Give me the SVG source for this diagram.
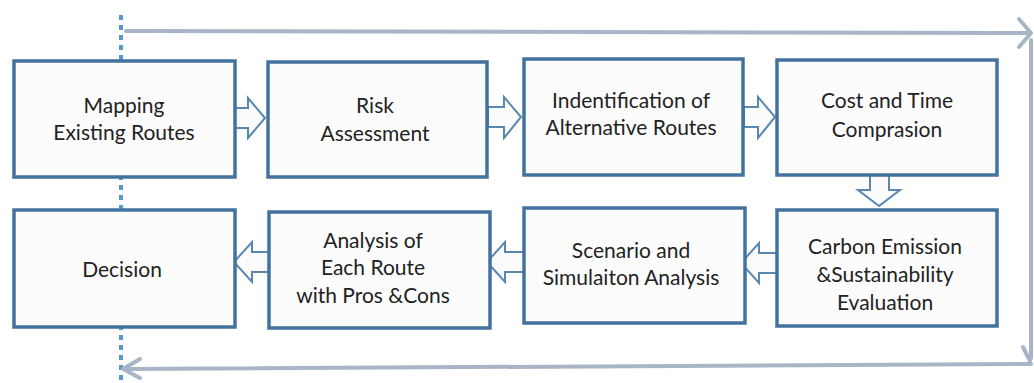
<svg xmlns="http://www.w3.org/2000/svg" width="1034" height="383" viewBox="0 0 1034 383">
  <defs>
    <style>
      .box { fill: #fcfcfc; stroke: #44729e; stroke-width: 3.5; }
      .lbl { font-family: Lato, "Open Sans", "Liberation Sans", sans-serif; font-size: 21px; fill: #222222; text-anchor: middle; }
      .flow { fill: #fbfbfb; stroke: #5a86b2; stroke-width: 2; stroke-linejoin: miter; }
      .loop { fill: none; stroke: #a7b5c7; stroke-width: 4; stroke-linecap: round; stroke-linejoin: round; }
      .guide { fill: none; stroke: #5b96d0; stroke-width: 4; stroke-dasharray: 5 5; }
    </style>
  </defs>
  <rect width="1034" height="383" fill="#ffffff"/>

  <!-- dotted guide line running behind the left column -->
  <line class="guide" x1="121" y1="15" x2="121" y2="383"/>

  <g id="connectors">
    <!-- feedback loop around the process -->
    <g id="loop">
      <path class="loop" d="M126,31 L1030,33"/>
      <path class="loop" d="M1019,19 L1031,33 L1019,47"/>
      <path class="loop" d="M1031,40 L1031,358"/>
      <path class="loop" d="M1023,347 L1030,361"/>
      <path class="loop" d="M1031,364 L124,369"/>
      <path class="loop" d="M140,359 L123,369 L140,378"/>
    </g>
    <!-- block arrows between steps -->
    <polygon class="flow" points="235,108 248,108 248,98 265,118 248,138 248,128 235,128"/>
    <polygon class="flow" points="488,107 504,107 504,97 521,117 504,138 504,127 488,127"/>
    <polygon class="flow" points="744,107 758,107 758,97 775,117 758,138 758,127 744,127"/>
    <polygon class="flow" points="870,175 889,175 889,190 900,190 879,206 858,190 870,190"/>
    <polygon class="flow" points="777,253 759,253 759,243 741,263 759,283 759,273 777,273"/>
    <polygon class="flow" points="524,252 505,252 505,242 487,262 505,282 505,272 524,272"/>
    <polygon class="flow" points="269,252 252,252 252,242 234,262 252,282 252,272 269,272"/>
  </g>

  <g id="mapping">
    <rect class="box" x="14" y="61" width="221" height="116"/>
    <text class="lbl" x="124" y="113">Mapping</text>
    <text class="lbl" x="124" y="140">Existing Routes</text>
  </g>
  <g id="risk">
    <rect class="box" x="268" y="62" width="219" height="115"/>
    <text class="lbl" x="375" y="113">Risk</text>
    <text class="lbl" x="375" y="141">Assessment</text>
  </g>
  <g id="alternatives">
    <rect class="box" x="524" y="59" width="219" height="116"/>
    <text class="lbl" x="631" y="108">Indentification of</text>
    <text class="lbl" x="631" y="135">Alternative Routes</text>
  </g>
  <g id="cost-time">
    <rect class="box" x="777" y="60" width="220" height="115"/>
    <text class="lbl" x="887" y="108">Cost and Time</text>
    <text class="lbl" x="887" y="137">Comprasion</text>
  </g>
  <g id="carbon">
    <rect class="box" x="777" y="210" width="220" height="116"/>
    <text class="lbl" x="885" y="254">Carbon Emission</text>
    <text class="lbl" x="885" y="282">&amp;Sustainability</text>
    <text class="lbl" x="885" y="310">Evaluation</text>
  </g>
  <g id="scenario">
    <rect class="box" x="524" y="208" width="221" height="115"/>
    <text class="lbl" x="631" y="258">Scenario and</text>
    <text class="lbl" x="631" y="285">Simulaiton Analysis</text>
  </g>
  <g id="analysis">
    <rect class="box" x="269" y="212" width="221" height="116"/>
    <text class="lbl" x="373" y="248">Analysis of</text>
    <text class="lbl" x="373" y="275">Each Route</text>
    <text class="lbl" x="373" y="303">with Pros &amp;Cons</text>
  </g>
  <g id="decision">
    <rect class="box" x="14" y="210" width="221" height="117"/>
    <text class="lbl" x="122" y="277">Decision</text>
  </g>
</svg>
